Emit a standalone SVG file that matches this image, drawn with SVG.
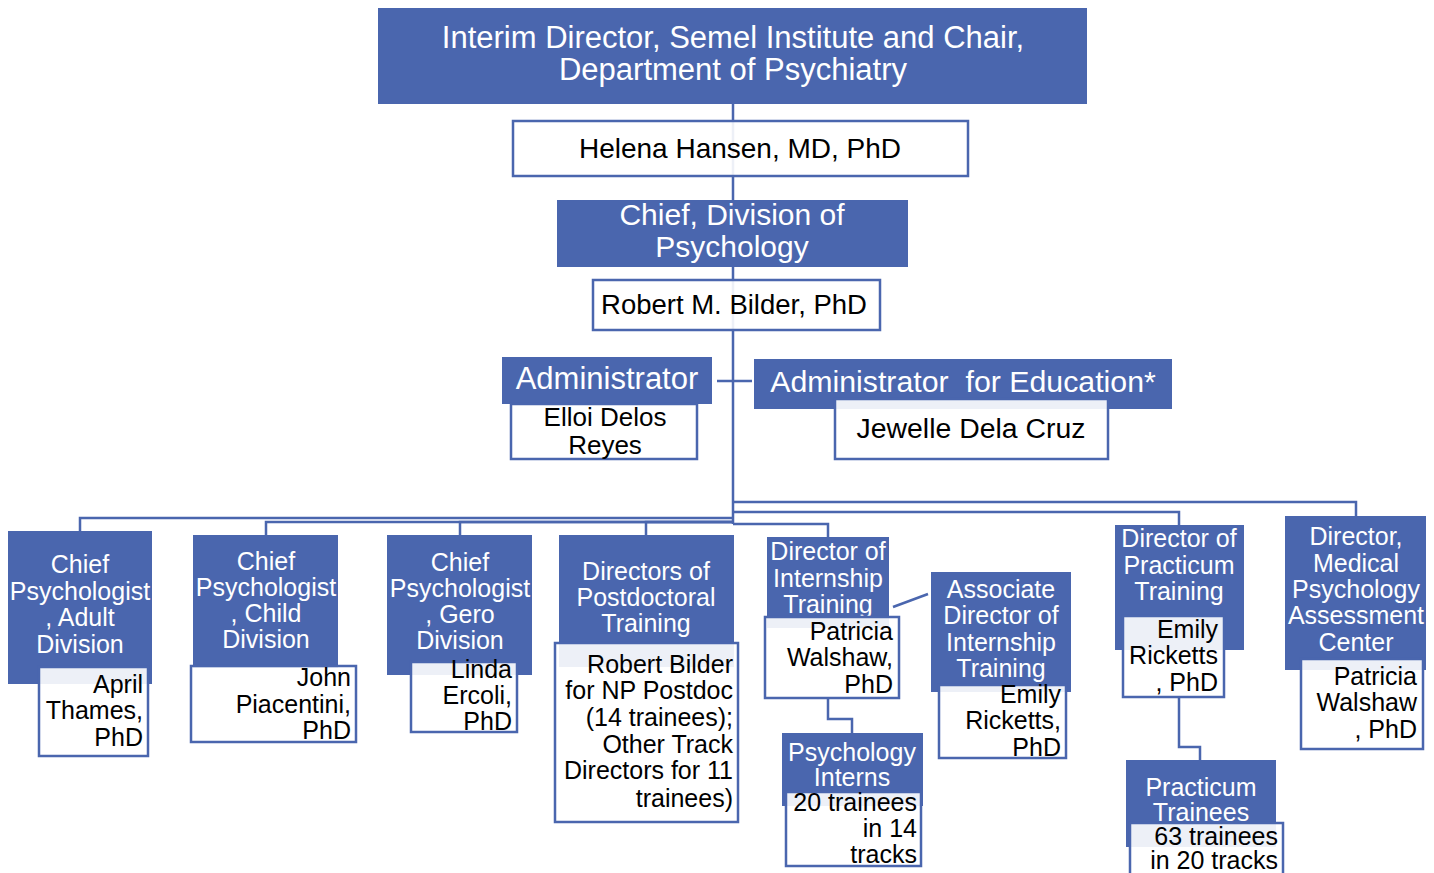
<svg xmlns="http://www.w3.org/2000/svg" width="1434" height="873" viewBox="0 0 1434 873">
<style>
.b{fill:#4a66ae}
.w{fill:#fff;fill-opacity:0.9;stroke:#4a66ae;stroke-width:2.5}
.tw{fill:#fff;font-family:"Liberation Sans",Arial,sans-serif;text-anchor:middle}
.tk{fill:#000;font-family:"Liberation Sans",Arial,sans-serif}
.m{text-anchor:middle}
.e{text-anchor:end}
.s{font-size:25px}
.c{fill:none;stroke:#4a66ae;stroke-width:2.5}
</style>
<rect width="1434" height="873" fill="#fff"/>
<g id="connectors" class="c">
<path d="M733 104V524"/>
<path d="M717 381H752"/>
<path d="M733 518H80V531"/>
<path d="M733 522H266V535"/>
<path d="M733 522H460V535"/>
<path d="M733 522H646V535"/>
<path d="M733 524H828V538"/>
<path d="M733 512H1179V525"/>
<path d="M733 502H1356V516"/>
<path d="M893 607L928 594"/>
<path d="M828 698V719H852V733"/>
<path d="M1179 697V747H1200V760"/>
</g>
<g id="interim-director">
<rect class="b" x="378" y="8" width="709" height="96"/>
<text class="tw" font-size="31" x="733"><tspan x="733" y="48">Interim Director, Semel Institute and Chair,</tspan><tspan x="733" y="80">Department of Psychiatry</tspan></text>
</g>
<g id="helena-hansen">
<rect class="w" x="513" y="121" width="455" height="55"/>
<text class="tk m" font-size="28" x="740" y="158">Helena Hansen, MD, PhD</text>
</g>
<g id="chief-division">
<rect class="b" x="557" y="200" width="351" height="67"/>
<text class="tw" font-size="30"><tspan x="732" y="225">Chief, Division of</tspan><tspan x="732" y="257">Psychology</tspan></text>
</g>
<g id="robert-bilder">
<rect class="w" x="593" y="280" width="287" height="50"/>
<text class="tk m" font-size="27.5" x="734" y="314">Robert M. Bilder, PhD</text>
</g>
<g id="administrator">
<rect class="b" x="502" y="357" width="210" height="47"/>
<text class="tw" font-size="31" x="607" y="389">Administrator</text>
<rect class="w" x="511" y="404" width="186" height="55"/>
<text class="tk m" font-size="26"><tspan x="605" y="426">Elloi Delos</tspan><tspan x="605" y="454">Reyes</tspan></text>
</g>
<g id="admin-education">
<rect class="b" x="754" y="359" width="418" height="50"/>
<text class="tw" font-size="30.3" x="963" y="392" xml:space="preserve">Administrator  for Education*</text>
<rect class="w" x="835" y="399" width="273" height="60"/>
<text class="tk m" font-size="28.4" x="971" y="438">Jewelle Dela Cruz</text>
</g>
<g id="adult-division">
<rect class="b" x="8" y="531" width="144" height="153"/>
<text class="tw s"><tspan x="80" y="573">Chief</tspan><tspan x="80" y="600">Psychologist</tspan><tspan x="80" y="626">, Adult</tspan><tspan x="80" y="653">Division</tspan></text>
<rect class="w" x="39" y="667" width="109" height="89"/>
<text class="tk e s"><tspan x="143" y="693">April</tspan><tspan x="143" y="719">Thames,</tspan><tspan x="143" y="746">PhD</tspan></text>
</g>
<g id="child-division">
<rect class="b" x="193" y="535" width="145" height="133"/>
<text class="tw s"><tspan x="266" y="570">Chief</tspan><tspan x="266" y="596">Psychologist</tspan><tspan x="266" y="622">, Child</tspan><tspan x="266" y="648">Division</tspan></text>
<rect class="w" x="191" y="666" width="165" height="76"/>
<text class="tk e s"><tspan x="351" y="686">John</tspan><tspan x="351" y="713">Piacentini,</tspan><tspan x="351" y="739">PhD</tspan></text>
</g>
<g id="gero-division">
<rect class="b" x="387" y="535" width="145" height="140"/>
<text class="tw s"><tspan x="460" y="571">Chief</tspan><tspan x="460" y="597">Psychologist</tspan><tspan x="460" y="623">, Gero</tspan><tspan x="460" y="649">Division</tspan></text>
<rect class="w" x="411" y="662" width="106" height="70"/>
<text class="tk e s"><tspan x="512" y="678">Linda</tspan><tspan x="512" y="704">Ercoli,</tspan><tspan x="512" y="730">PhD</tspan></text>
</g>
<g id="postdoc-training">
<rect class="b" x="559" y="535" width="175" height="132"/>
<text class="tw s"><tspan x="646" y="580">Directors of</tspan><tspan x="646" y="606">Postdoctoral</tspan><tspan x="646" y="632">Training</tspan></text>
<rect class="w" x="555" y="643" width="183" height="179"/>
<text class="tk e s"><tspan x="733" y="673">Robert Bilder</tspan><tspan x="733" y="699">for NP Postdoc</tspan><tspan x="733" y="726">(14 trainees);</tspan><tspan x="733" y="753">Other Track</tspan><tspan x="733" y="779">Directors for 11</tspan><tspan x="733" y="807">trainees)</tspan></text>
</g>
<g id="internship-training">
<rect class="b" x="767" y="537" width="122" height="91"/>
<text class="tw s"><tspan x="828" y="560">Director of</tspan><tspan x="828" y="587">Internship</tspan><tspan x="828" y="613">Training</tspan></text>
<rect class="w" x="765" y="617" width="134" height="81"/>
<text class="tk e s"><tspan x="893" y="640">Patricia</tspan><tspan x="893" y="666">Walshaw,</tspan><tspan x="893" y="693">PhD</tspan></text>
</g>
<g id="associate-internship">
<rect class="b" x="931" y="572" width="140" height="120"/>
<text class="tw s"><tspan x="1001" y="598">Associate</tspan><tspan x="1001" y="624">Director of</tspan><tspan x="1001" y="651">Internship</tspan><tspan x="1001" y="677">Training</tspan></text>
<rect class="w" x="939" y="685" width="127" height="73"/>
<text class="tk e s"><tspan x="1061" y="703">Emily</tspan><tspan x="1061" y="729">Ricketts,</tspan><tspan x="1061" y="756">PhD</tspan></text>
</g>
<g id="psychology-interns">
<rect class="b" x="782" y="733" width="141" height="73"/>
<text class="tw s"><tspan x="852" y="761">Psychology</tspan><tspan x="852" y="786">Interns</tspan></text>
<rect class="w" x="786" y="792" width="135" height="74"/>
<text class="tk e s"><tspan x="917" y="811">20 trainees</tspan><tspan x="917" y="837">in 14</tspan><tspan x="917" y="863">tracks</tspan></text>
</g>
<g id="practicum-training">
<rect class="b" x="1115" y="525" width="129" height="125"/>
<text class="tw s"><tspan x="1179" y="547">Director of</tspan><tspan x="1179" y="574">Practicum</tspan><tspan x="1179" y="600">Training</tspan></text>
<rect class="w" x="1123" y="616" width="101" height="81"/>
<text class="tk e s"><tspan x="1218" y="638">Emily</tspan><tspan x="1218" y="664">Ricketts</tspan><tspan x="1218" y="691">, PhD</tspan></text>
</g>
<g id="practicum-trainees">
<rect class="b" x="1126" y="760" width="150" height="87"/>
<text class="tw s"><tspan x="1201" y="796">Practicum</tspan><tspan x="1201" y="821">Trainees</tspan></text>
<rect class="w" x="1130" y="823" width="153" height="60"/>
<text class="tk e s"><tspan x="1278" y="845">63 trainees</tspan><tspan x="1278" y="869">in 20 tracks</tspan></text>
</g>
<g id="medical-psychology">
<rect class="b" x="1285" y="516" width="141" height="154"/>
<text class="tw s"><tspan x="1356" y="545">Director,</tspan><tspan x="1356" y="572">Medical</tspan><tspan x="1356" y="598">Psychology</tspan><tspan x="1356" y="624">Assessment</tspan><tspan x="1356" y="651">Center</tspan></text>
<rect class="w" x="1301" y="659" width="122" height="90"/>
<text class="tk e s"><tspan x="1417" y="685">Patricia</tspan><tspan x="1417" y="711">Walshaw</tspan><tspan x="1417" y="738">, PhD</tspan></text>
</g>
</svg>
